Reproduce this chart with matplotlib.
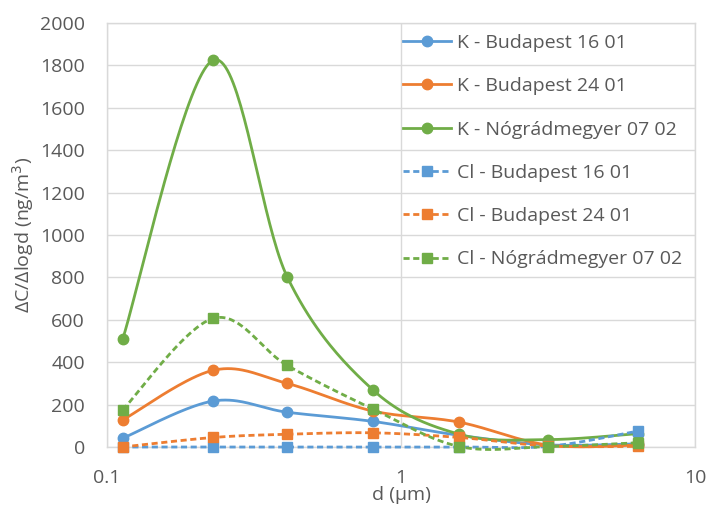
import numpy as np
import matplotlib
matplotlib.use("Agg")
import matplotlib.pyplot as plt
from matplotlib.ticker import NullLocator

plt.rcParams['font.family'] = ['Open Sans', 'DejaVu Sans']

# Particle size classes (µm) and concentrations (ng/m3)
d_um = [0.113, 0.23, 0.41, 0.80, 1.58, 3.17, 6.38]

k_bp_1601 = [41, 217, 164, 121, 55, 10, 15]
k_bp_2401 = [127, 362, 300, 170, 117, 9, 9]
k_ng_0702 = [508, 1825, 803, 271, 60, 35, 63]
cl_bp_1601 = [0, 0, 0, 0, 0, 3, 75]
cl_bp_2401 = [0, 45, 60, 67, 45, 5, 3]
cl_ng_0702 = [175, 607, 385, 180, 2, 2, 20]

labels = ["K - Budapest 16 01", "K - Budapest 24 01", "K - Nógrádmegyer 07 02",
          "Cl - Budapest 16 01", "Cl - Budapest 24 01", "Cl - Nógrádmegyer 07 02"]
series = [k_bp_1601, k_bp_2401, k_ng_0702, cl_bp_1601, cl_bp_2401, cl_ng_0702]

BLUE, ORANGE, GREEN = '#5B9BD5', '#ED7D31', '#70AD47'
colors = [BLUE, ORANGE, GREEN, BLUE, ORANGE, GREEN]
TEXT = '#595959'
GRID = '#d9d9d9'
FS = 14


def smooth_curve(xs, ys, steps=40):
    # spreadsheet-style smoothed line: cubic Bezier segments (Catmull-Rom), in log-x space
    u = np.log10(np.asarray(xs, dtype=float))
    v = np.asarray(ys, dtype=float)
    pts = np.column_stack([u, v])
    n = len(pts)
    out = []
    t = np.linspace(0, 1, steps)[:, None]
    for i in range(n - 1):
        p0 = pts[i]
        p3 = pts[i + 1]
        prev = pts[i - 1] if i > 0 else pts[i]
        nxt = pts[i + 2] if i + 2 < n else pts[i + 1]
        c1 = p0 + (p3 - prev) / 6.0
        c2 = p3 - (nxt - p0) / 6.0
        seg = ((1 - t) ** 3) * p0 + 3 * ((1 - t) ** 2) * t * c1 + 3 * (1 - t) * t ** 2 * c2 + t ** 3 * p3
        out.append(seg if i == 0 else seg[1:])
    curve = np.vstack(out)
    return 10 ** curve[:, 0], curve[:, 1]


fig = plt.figure(figsize=(7.07, 5.09), dpi=100)
ax = fig.add_axes([107 / 707, 1 - 447 / 509, 588 / 707, 424 / 509])

for i, (vals, col, lab) in enumerate(zip(series, colors, labels)):
    is_cl = i >= 3
    ls = (0, (2.2, 1.3)) if is_cl else '-'
    marker = 's' if is_cl else 'o'
    sx, sy = smooth_curve(d_um, vals)
    ax.plot(sx, sy, color=col, lw=2.0, ls=ls, zorder=3 + i, clip_on=False)
    ax.plot(d_um, vals, ls='none', marker=marker, ms=7.5, color=col, zorder=3 + i, clip_on=False)
    # proxy artist for the legend (line with marker in the middle)
    ax.plot([], [], color=col, lw=2.0, ls=ls, marker=marker, ms=7.5, label=lab)

ax.set_xscale('log')
ax.set_xlim(0.1, 10)
ax.set_ylim(0, 2000)
ax.set_xticks([0.1, 1, 10])
ax.set_xticklabels(['0.1', '1', '10'])
ax.xaxis.set_minor_locator(NullLocator())
ax.set_yticks(np.arange(0, 2001, 200))
ax.set_yticklabels([str(v) for v in range(0, 2001, 200)])

ax.tick_params(axis='both', length=0, labelsize=FS, labelcolor=TEXT)
ax.tick_params(axis='x', pad=16)
ax.tick_params(axis='y', pad=16)
ax.grid(True, color=GRID, lw=1.0)
ax.set_axisbelow(True)
for sp in ax.spines.values():
    sp.set_color(GRID)
    sp.set_linewidth(1.0)

ax.set_xlabel('d (µm)', fontsize=FS, color=TEXT, labelpad=-1)
ax.set_ylabel('ΔC/Δlogd (ng/m$^3$)', fontsize=FS, color=TEXT, labelpad=3)

ax.legend(loc='upper left', bbox_to_anchor=(0.503, 0.974), frameon=False,
          fontsize=FS, labelcolor=TEXT, handlelength=2.5, handletextpad=0.3,
          labelspacing=1.3, borderpad=0.0, borderaxespad=0.0)

fig.savefig('out.png', dpi=100)
